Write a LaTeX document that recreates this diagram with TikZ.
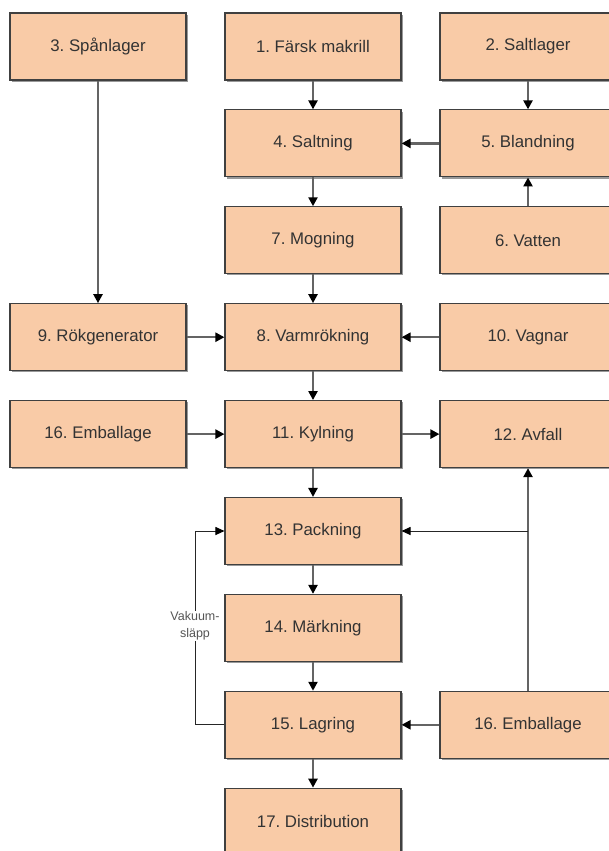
\documentclass[tikz,border=0pt]{standalone}
\usepackage{fontspec}
\setmainfont{Liberation Sans}
\usetikzlibrary{arrows.meta,shadows}
\definecolor{boxfill}{HTML}{F9CBA7}
\definecolor{boxline}{HTML}{404040}
\definecolor{arrgray}{HTML}{646464}
\definecolor{textc}{HTML}{333333}
\definecolor{labc}{HTML}{555555}
\frenchspacing
\begin{document}
\begin{tikzpicture}[x=1pt,y=-1pt,
  proc/.style={draw=boxline, line width=1.1pt, fill=boxfill,
    minimum width=176pt, minimum height=67pt, inner sep=0pt,
    font=\fontsize{16.8}{19}\selectfont, text=textc,
    drop shadow={shadow xshift=1.6pt, shadow yshift=-1.6pt, fill=black!40, opacity=1}},
  flow/.style={draw=arrgray, line width=2.3pt, -{Triangle[length=9pt,width=9pt,color=black]}},
  flowthin/.style={draw=black!85, line width=1pt, -{Triangle[length=9pt,width=8pt,color=black]}},
  lab/.style={font=\fontsize{12.5}{17}\selectfont, text=labc, fill=white, align=center, inner sep=1pt}
]
\useasboundingbox (0,0) rectangle (609,851);
\clip (0,0) rectangle (609,851);
\fill[white] (0,0) rectangle (609,851);
% rows: 46.5 + 96.9 i
\node[proc] (n3)  at (98,46.5)  {3. Spånlager};
\node[proc] (n1)  at (313,46.5) {1. Färsk makrill};
\node[proc] (n2)  at (528,46.5) {2. Saltlager};
\node[proc] (n4)  at (313,143.4) {4. Saltning};
\node[proc] (n5)  at (528,143.4) {5. Blandning};
\node[proc] (n7)  at (313,240.3) {7. Mogning};
\node[proc] (n6)  at (528,240.3) {6. Vatten};
\node[proc] (n9)  at (98,337.2)  {9. Rökgenerator};
\node[proc] (n8)  at (313,337.2) {8. Varmrökning};
\node[proc] (n10) at (528,337.2) {10. Vagnar};
\node[proc] (n16a) at (98,434.1) {16. Emballage};
\node[proc] (n11) at (313,434.1) {11. Kylning};
\node[proc] (n12) at (528,434.1) {12. Avfall};
\node[proc] (n13) at (313,531) {13. Packning};
\node[proc] (n14) at (313,627.9) {14. Märkning};
\node[proc] (n15) at (313,724.8) {15. Lagring};
\node[proc] (n16b) at (528,724.8) {16. Emballage};
\node[proc] (n17) at (313,821.7) {17. Distribution};
% connectors
\draw[flow] (n1) -- (n4);
\draw[flow] (n2) -- (n5);
\draw[flow] (n5) -- (n4);
\draw[flow] (n6) -- (n5);
\draw[flow] (n4) -- (n7);
\draw[flow] (n7) -- (n8);
\draw[flow] (n3) -- (n9);
\draw[flow] (n9) -- (n8);
\draw[flow] (n10) -- (n8);
\draw[flow] (n8) -- (n11);
\draw[flow] (n16a) -- (n11);
\draw[flow] (n11) -- (n12);
\draw[flow] (n11) -- (n13);
\draw[flow] (n13) -- (n14);
\draw[flow] (n14) -- (n15);
\draw[flow] (n15) -- (n17);
\draw[flow] (n16b) -- (n15);
\draw[flow] (n16b) -- (n12);
\coordinate (j) at (n16b.north |- n13.east);
\draw[flowthin] (j) -- (n13.east);
\draw[flowthin] (n15.west) -- ++(-29,0) |- (n13.west);
\node[lab] (vl) at (195,626) {Vakuum-\\släpp};
\end{tikzpicture}
\end{document}
